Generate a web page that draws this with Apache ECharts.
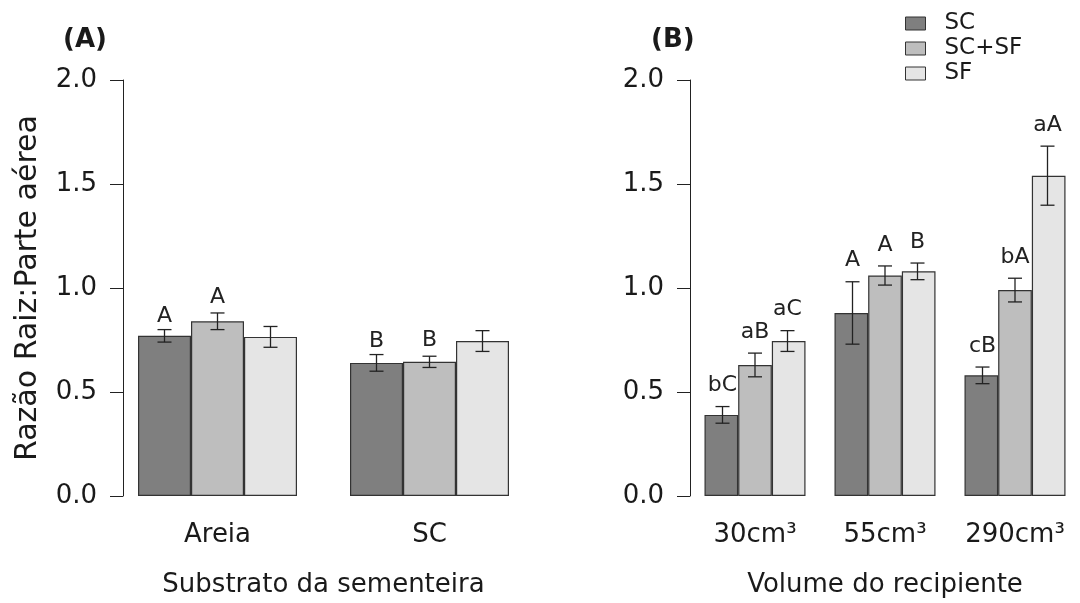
<!DOCTYPE html>
<html>
<head>
<meta charset="utf-8">
<script src="https://cdn.jsdelivr.net/npm/echarts@6/dist/echarts.min.js"></script>
<style>
  html, body { margin: 0; padding: 0; background: #fff; }
  #chart { width: 1080px; height: 603px; }
</style>
</head>
<body>
<div id="chart"></div>
<script>
// categories
const groupsA = ['Areia', 'SC'];
const groupsB = ['30cm³', '55cm³', '290cm³'];
const treatments = ['SC', 'SC+SF', 'SF'];

// panel A: means, errors, letters
const meanA_SC = [0.77, 0.64];
const meanA_SCSF = [0.84, 0.645];
const meanA_SF = [0.765, 0.745];
const errA_SC = [0.03, 0.04];
const errA_SCSF = [0.04, 0.027];
const errA_SF = [0.05, 0.05];
const letA_SC = ['A', 'B'];
const letA_SCSF = ['A', 'B'];
const letA_SF = ['', ''];

// panel B
const meanB_SC = [0.39, 0.88, 0.58];
const meanB_SCSF = [0.63, 1.06, 0.99];
const meanB_SF = [0.745, 1.08, 1.54];
const errB_SC = [0.04, 0.15, 0.04];
const errB_SCSF = [0.057, 0.046, 0.057];
const errB_SF = [0.05, 0.04, 0.142];
const letB_SC = ['bC', 'A', 'cB'];
const letB_SCSF = ['aB', 'A', 'bA'];
const letB_SF = ['aC', 'B', 'aA'];

const colors = ['#7f7f7f', '#bebebe', '#e5e5e5'];
const FONT = 'DejaVu Sans';
const ink = '#1a1a1a';

const chart = echarts.init(document.getElementById('chart'));

function barSeries(name, data, idx, axis, width) {
  return {
    name: name,
    type: 'bar',
    xAxisIndex: axis,
    yAxisIndex: axis,
    data: data,
    barWidth: width,
    barGap: '0%',
    itemStyle: { color: colors[idx], borderColor: '#333', borderWidth: 1.2 },
    z: 2
  };
}

// error bars + letters drawn over the bars
function errSeries(means, errs, letters, j, axis, gap) {
  return {
    name: 'err' + axis + j,
    type: 'custom',
    xAxisIndex: axis,
    yAxisIndex: axis,
    z: 5,
    data: means.map((m, i) => [i, m, errs[i]]),
    renderItem: function (params, api) {
      const cat = api.value(0), m = api.value(1), e = api.value(2);
      const bw = api.size([1, 0])[0] / 4;
      const top = api.coord([cat, m + e]);
      const bot = api.coord([cat, m - e]);
      const x = top[0] + (j - 1) * bw;
      const cap = 7;
      const ls = { stroke: '#222', lineWidth: 1.3 };
      return {
        type: 'group',
        children: [
          { type: 'line', shape: { x1: x, y1: top[1], x2: x, y2: bot[1] }, style: ls },
          { type: 'line', shape: { x1: x - cap, y1: top[1], x2: x + cap, y2: top[1] }, style: ls },
          { type: 'line', shape: { x1: x - cap, y1: bot[1], x2: x + cap, y2: bot[1] }, style: ls },
          {
            type: 'text',
            style: {
              text: letters[params.dataIndex],
              x: x, y: top[1] - gap,
              align: 'center', verticalAlign: 'bottom',
              fontFamily: FONT, fontSize: 22, fill: '#222'
            }
          }
        ]
      };
    }
  };
}

function yAxisOpt(gridIdx, offset, withName) {
  return {
    type: 'value',
    gridIndex: gridIdx,
    min: 0, max: 2, interval: 0.5,
    offset: offset,
    axisLine: { show: true, lineStyle: { color: '#222', width: 1 } },
    axisTick: { show: true, length: 13, lineStyle: { color: '#222' } },
    axisLabel: { margin: 26, fontFamily: FONT, fontSize: 26, color: ink, formatter: v => v.toFixed(1) },
    splitLine: { show: false },
    name: withName ? 'Razão Raiz:Parte aérea' : '',
    nameLocation: 'middle',
    nameGap: 80,
    nameTextStyle: { fontFamily: FONT, fontSize: 30, color: ink }
  };
}

function xAxisOpt(gridIdx, cats, name) {
  return {
    type: 'category',
    gridIndex: gridIdx,
    data: cats,
    axisLine: { show: false },
    axisTick: { show: false },
    axisLabel: { margin: 26, fontFamily: FONT, fontSize: 26, color: ink },
    name: name,
    nameLocation: 'middle',
    nameGap: 76,
    nameTextStyle: { fontFamily: FONT, fontSize: 26, color: ink }
  };
}

const option = {
  backgroundColor: '#fff',
  animation: false,
  title: [
    { text: '(A)', left: 58, top: 22, textStyle: { fontFamily: FONT, fontSize: 26, fontWeight: 'bold', color: ink } },
    { text: '(B)', left: 646, top: 22, textStyle: { fontFamily: FONT, fontSize: 26, fontWeight: 'bold', color: ink } }
  ],
  legend: {
    data: treatments,
    orient: 'vertical',
    left: 900,
    top: 6,
    itemWidth: 20,
    itemHeight: 13,
    itemGap: 0,
    icon: 'rect',
    itemStyle: { borderColor: '#333', borderWidth: 1 },
    textStyle: { fontFamily: FONT, fontSize: 23, color: ink, lineHeight: 25, padding: [0, 0, 0, 14] }
  },
  grid: [
    { left: 111.5, width: 424, top: 80, bottom: 107 },
    { left: 690, width: 404, top: 80, bottom: 107 }
  ],
  xAxis: [
    xAxisOpt(0, groupsA, 'Substrato da sementeira'),
    xAxisOpt(1, groupsB, 'Volume do recipiente')
  ],
  yAxis: [yAxisOpt(0, -11.5, true), yAxisOpt(1, 0, false)],
  series: [
    barSeries('SC', meanA_SC, 0, 0, 53),
    barSeries('SC+SF', meanA_SCSF, 1, 0, 53),
    barSeries('SF', meanA_SF, 2, 0, 53),
    barSeries('SC', meanB_SC, 0, 1, 33.67),
    barSeries('SC+SF', meanB_SCSF, 1, 1, 33.67),
    barSeries('SF', meanB_SF, 2, 1, 33.67),
    errSeries(meanA_SC, errA_SC, letA_SC, 0, 0, 2),
    errSeries(meanA_SCSF, errA_SCSF, letA_SCSF, 1, 0, 5),
    errSeries(meanA_SF, errA_SF, letA_SF, 2, 0, 5),
    errSeries(meanB_SC, errB_SC, letB_SC, 0, 1, 10),
    errSeries(meanB_SCSF, errB_SCSF, letB_SCSF, 1, 1, 10),
    errSeries(meanB_SF, errB_SF, letB_SF, 2, 1, 10)
  ]
};

chart.setOption(option);
</script>
</body>
</html>
